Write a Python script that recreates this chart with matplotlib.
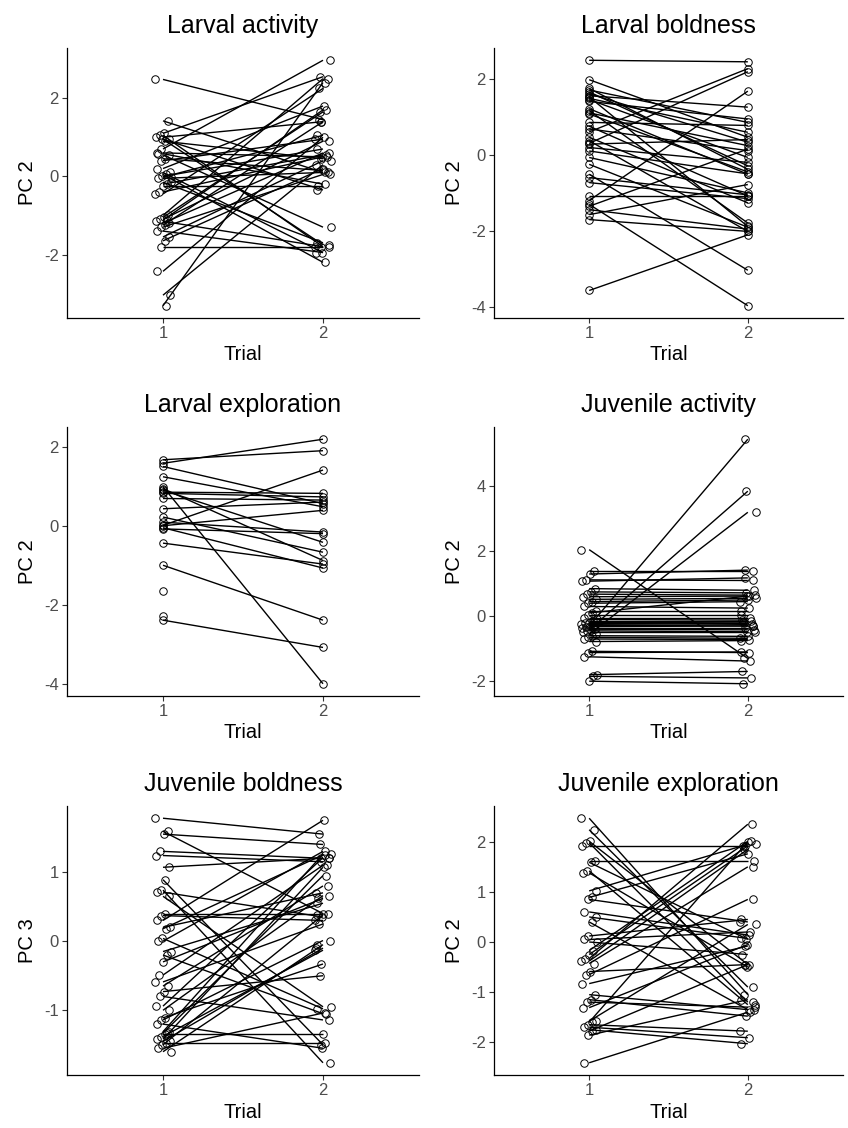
import numpy as np
import matplotlib
matplotlib.use("Agg")
import matplotlib.pyplot as plt

plt.rcParams['font.family'] = ['Liberation Sans', 'DejaVu Sans']

# ---------------- data ----------------
titles = ["Larval activity", "Larval boldness", "Larval exploration",
          "Juvenile activity", "Juvenile boldness", "Juvenile exploration"]
ylabels = ["PC 2", "PC 2", "PC 2", "PC 2", "PC 3", "PC 2"]
trial_labels = ["1", "2"]

la_t1 = [2.48, 1.42, 1.10, 1.05, 1.00, 0.95, 0.90, 0.70, 0.60, 0.55, 0.45, 0.40,
         0.20, 0.10, 0.05, 0.00, -0.05, -0.15, -0.20, -0.25, -0.40, -0.45, -1.00,
         -1.05, -1.10, -1.15, -1.20, -1.25, -1.30, -1.40, -1.55, -1.65, -1.80,
         -2.43, -3.04, -3.31, 0.95, 0.58, -0.02, -1.12]
la_t2 = [1.45, 0.10, 2.55, -1.80, 1.40, -1.75, 0.45, 2.97, 0.50, -1.30, 0.15, 0.95,
         1.80, -1.95, -2.20, 0.70, 0.10, -1.70, 0.55, -0.25, 0.50, 2.25, 2.50,
         1.65, 0.90, -1.80, 0.60, 1.40, 0.05, -1.95, 0.40, 0.20, -1.80,
         1.00, 0.30, 2.40, -0.35, -0.20, 1.05, 1.70]

lb_t1 = [2.48, 1.97, 1.74, 1.70, 1.65, 1.60, 1.55, 1.52, 1.48, 1.45, 1.40, 1.21,
         1.16, 1.10, 1.07, 0.85, 0.75, 0.68, 0.60, 0.46, 0.37, 0.30, 0.28, 0.19,
         0.10, -0.07, -0.25, -0.51, -0.60, -0.73, -1.08, -1.20, -1.30, -1.35,
         -1.44, -1.57, -1.70, -3.56]
lb_t2 = [2.44, 0.46, -0.38, 0.85, -0.29, 0.33, 1.25, -1.88, 0.59, -0.07, 0.94, -0.51,
         -1.79, 0.24, -0.45, 0.77, -1.08, 0.11, 2.26, -1.26, -2.01, 2.18, 0.40, -0.20,
         -0.50, -1.00, -1.90, -3.03, -1.05, -1.15, -1.08, 1.67, -3.96, 0.15,
         -1.95, -0.78, -2.01, -2.10]

le_t1 = [1.67, 1.58, 1.50, 1.24, 0.99, 0.94, 0.90, 0.85, 0.82, 0.69, 0.43, 0.22,
         0.09, 0.01, 0.00, -0.08, -0.05, -0.44, -1.00, -1.65, -2.28, -2.39]
le_t2 = [1.90, 2.19, 0.56, 0.48, -4.00, -0.88, -0.42, 0.82, 0.73, 0.65, 0.60, -0.67,
         -0.16, 1.41, 0.39, -0.20, -1.07, -0.97, -2.39, np.nan, np.nan, -3.08]

ja_t1 = [2.05, 1.38, 1.30, 1.12, 1.08, 0.85, 0.75, 0.68, 0.60, 0.52, 0.45, 0.40,
         0.30, 0.15, 0.10, 0.05, -0.05, -0.10, -0.15, -0.20, -0.22, -0.25, -0.28,
         -0.30, -0.32, -0.35, -0.40, -0.42, -0.45, -0.50, -0.55, -0.60, -0.65,
         -0.70, -0.78, -1.08, -1.12, -1.25, -1.80, -1.85, -2.00]
ja_t2 = [-1.30, 1.38, 1.42, 1.10, 1.18, 0.80, 0.72, 0.65, 0.62, 0.55, 0.50, 0.45,
         0.25, 0.15, 0.62, 0.05, -0.05, -0.12, -0.15, -0.18, -0.25, -0.22, -0.30,
         5.45, -0.30, -0.35, -0.42, 3.85, -0.48, -0.50, 3.20, -0.62, -0.68,
         -0.72, -0.75, -1.12, -1.10, -1.38, -1.70, -1.90, -2.08]

jb_t1 = [1.78, 1.59, 1.55, 1.30, 1.24, 1.07, 0.89, 0.74, 0.71, 0.65, 0.40, 0.37,
         0.30, 0.20, 0.18, 0.04, 0.00, -0.15, -0.20, -0.30, -0.49, -0.59, -0.65,
         -0.73, -0.80, -0.94, -1.00, -1.11, -1.14, -1.20, -1.31, -1.35, -1.38,
         -1.42, -1.45, -1.48, -1.50, -1.55, -1.60, -1.33]
jb_t2 = [1.55, 0.40, 1.40, 1.20, 1.15, 1.20, -1.50, -1.76, 0.35, -0.95, 0.40, 0.30,
         1.75, 0.70, 1.25, -0.98, 1.30, 0.55, -1.05, 0.62, 1.10, 0.25, 0.80,
         -0.50, -1.14, 1.21, 0.66, -0.33, 0.01, -1.55, 1.26, -1.35, -0.13,
         1.07, -0.10, -1.48, 0.38, -1.04, -0.05, 0.95]

je_t1 = [2.47, 2.24, 2.01, 1.98, 1.91, 1.62, 1.59, 1.42, 1.38, 1.02, 0.89, 0.85,
         0.60, 0.50, 0.40, 0.12, 0.05, 0.00, -0.17, -0.25, -0.33, -0.38, -0.43,
         -0.59, -0.65, -0.83, -1.05, -1.15, -1.20, -1.31, -1.58, -1.60, -1.65,
         -1.70, -1.75, -1.78, -1.86, -2.41]
je_t2 = [-1.05, -0.90, -0.45, -1.20, 1.91, 1.62, 0.05, -1.25, -0.50, 1.95, 1.76, 0.40,
         0.14, 0.07, -1.35, 0.45, 0.20, -0.25, 2.01, 1.92, 2.35, 1.85, 1.50,
         -0.45, 0.85, -0.08, -1.35, -1.48, -1.30, -0.05, 0.35, 2.00, -1.78,
         -1.91, -2.03, -0.45, -1.15, -1.40]

panels = [(la_t1, la_t2), (lb_t1, lb_t2), (le_t1, le_t2),
          (ja_t1, ja_t2), (jb_t1, jb_t2), (je_t1, je_t2)]
yticks = [[-2, 0, 2], [-4, -2, 0, 2], [-4, -2, 0, 2], [-2, 0, 2, 4],
          [-1, 0, 1], [-2, -1, 0, 1, 2]]
jittered = [True, False, False, True, True, True]

# ---------------- layout ----------------
W, H = 848, 1128
fig = plt.figure(figsize=(W / 100, H / 100), dpi=100)
fig.patch.set_facecolor('white')

cols = [(67, 419), (494, 843)]
rows = [(48, 318), (427, 696), (806, 1075)]

for k in range(6):
    r, c = divmod(k, 2)
    x0, x1 = cols[c]
    yt, yb = rows[r]
    ax = fig.add_axes([x0 / W, 1 - yb / H, (x1 - x0) / W, (yb - yt) / H])
    t1 = np.array(panels[k][0], dtype=float)
    t2 = np.array(panels[k][1], dtype=float)
    n = len(t1)
    idx = np.arange(n)
    if jittered[k]:
        j1 = ((idx * 37) % 21 - 10) / 200.0
        j2 = ((idx * 53 + 5) % 21 - 10) / 200.0
    else:
        j1 = np.zeros(n)
        j2 = np.zeros(n)
    for i in range(n):
        if not (np.isnan(t1[i]) or np.isnan(t2[i])):
            ax.plot([1, 2], [t1[i], t2[i]], color='black', lw=1.0,
                    solid_capstyle='butt', zorder=2)
    ax.plot(1 + j1, t1, 'o', ms=5.4, mfc='none', mec='black', mew=0.7,
            ls='none', zorder=3)
    ax.plot(2 + j2, t2, 'o', ms=5.4, mfc='none', mec='black', mew=0.7,
            ls='none', zorder=3)
    allv = np.concatenate([t1, t2])
    lo, hi = np.nanmin(allv), np.nanmax(allv)
    pad = 0.05 * (hi - lo)
    ax.set_ylim(lo - pad, hi + pad)
    ax.set_xlim(0.4, 2.6)
    ax.set_xticks([1, 2])
    ax.set_xticklabels(trial_labels)
    ax.set_yticks(yticks[k])
    ax.set_yticklabels([str(v) if v >= 0 else "-" + str(-v) for v in yticks[k]])
    for s in ['top', 'right']:
        ax.spines[s].set_visible(False)
    for s in ['left', 'bottom']:
        ax.spines[s].set_linewidth(0.9)
        ax.spines[s].set_color('black')
    ax.tick_params(axis='both', length=3.5, width=0.8, color='#333333',
                   labelsize=12, labelcolor='#4d4d4d', pad=2.5)
    ax.set_xlabel("Trial", fontsize=14.5, color='black', labelpad=3)
    ax.set_ylabel(ylabels[k], fontsize=14.5, color='black', labelpad=5)
    ax.set_title(titles[k], fontsize=18, color='black', pad=11)
    ax.set_facecolor('white')

fig.savefig("out.png", dpi=100, facecolor='white')
